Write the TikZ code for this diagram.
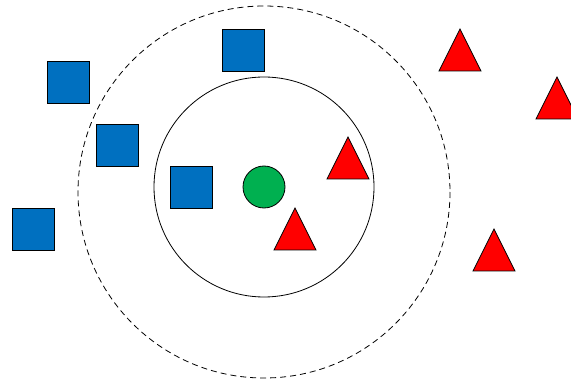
\documentclass[tikz,border=0pt]{standalone}
\definecolor{sqblue}{HTML}{0070C0}
\definecolor{trired}{HTML}{FF0000}
\definecolor{cgreen}{HTML}{00B050}
\begin{document}
\begin{tikzpicture}[x=1pt,y=-1pt,
  sq/.style={draw=black,fill=sqblue,line width=0.8pt},
  tri/.style={draw=black,fill=trired,line width=0.8pt,line join=miter},
  ring/.style={draw=black,line width=0.8pt}]
\useasboundingbox (0,0) rectangle (571,385);
\clip (0,0) rectangle (571,385);
% circles
\draw[ring,dashed,dash pattern=on 6pt off 4pt] (264,192) circle[radius=186];
\draw[ring] (264,187) circle[radius=110];
\draw[ring,fill=cgreen] (264,187) circle[radius=21];
% squares
\draw[sq] (222,29) rectangle (264,71);
\draw[sq] (47,61) rectangle (89,103);
\draw[sq] (96,124) rectangle (138,166);
\draw[sq] (170,166) rectangle (212,208);
\draw[sq] (12,208) rectangle (54,250);
% triangles
\draw[tri] (460,29) -- (439,71) -- (481,71) -- cycle;
\draw[tri] (557,77) -- (536,119) -- (578,119) -- cycle;
\draw[tri] (348,137) -- (327,179) -- (369,179) -- cycle;
\draw[tri] (295,208) -- (274,250) -- (316,250) -- cycle;
\draw[tri] (494,229) -- (473,271) -- (515,271) -- cycle;
\end{tikzpicture}
\end{document}
